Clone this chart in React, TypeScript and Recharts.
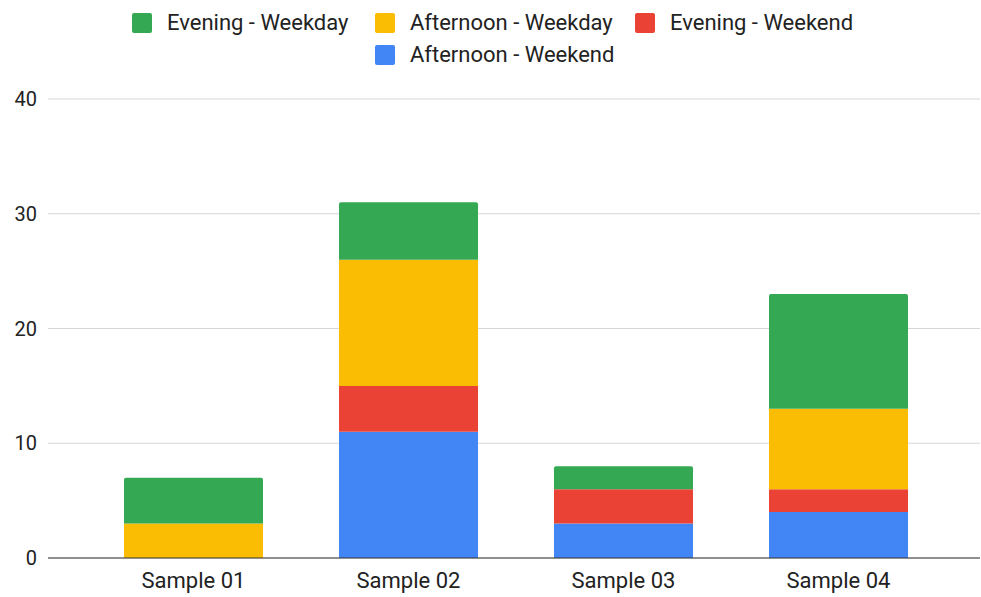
import React from 'react';
import { BarChart, Bar, XAxis, YAxis, CartesianGrid } from 'recharts';

const categories = ['Sample 01', 'Sample 02', 'Sample 03', 'Sample 04'];
const afternoonWeekend = [0, 11, 3, 4];
const eveningWeekend = [0, 4, 3, 2];
const afternoonWeekday = [3, 11, 0, 7];
const eveningWeekday = [4, 5, 2, 10];
const yTicks = [0, 10, 20, 30, 40];

const seriesNames = ['Afternoon - Weekend', 'Evening - Weekend', 'Afternoon - Weekday', 'Evening - Weekday'];
const seriesColors = ['#4285f4', '#ea4335', '#fbbc04', '#34a853'];
const seriesKeys = ['aWe', 'eWe', 'aWd', 'eWd'];

const data = categories.map((c, i) => ({
  name: c,
  aWe: afternoonWeekend[i],
  eWe: eveningWeekend[i],
  aWd: afternoonWeekday[i],
  eWd: eveningWeekday[i],
}));

// legend order (Google style: reversed stack), with layout slots
const legendOrder = [3, 2, 1, 0];
const legendSlots = [
  { left: 132, top: 13 },
  { left: 375, top: 13 },
  { left: 635, top: 13 },
  { left: 375, top: 45 },
];

const FONT = 'Roboto, "Noto Sans", Arial, sans-serif';

export default function App() {
  return (
    <div style={{ position: 'absolute', left: 0, top: 0, width: 981, height: 597, background: '#fff', fontFamily: FONT }}>
      {legendOrder.map((si, k) => (
        <div
          key={si}
          style={{
            position: 'absolute',
            left: legendSlots[k].left,
            top: legendSlots[k].top,
            height: 20,
            display: 'flex',
            alignItems: 'flex-start',
            whiteSpace: 'nowrap',
          }}
        >
          <div style={{ width: 20, height: 20, borderRadius: 2, background: seriesColors[si] }} />
          <span style={{ marginLeft: 15, fontSize: 22, color: '#222', lineHeight: '20px', position: 'relative', top: 0 }}>
            {seriesNames[si]}
          </span>
        </div>
      ))}
      <BarChart
        width={981}
        height={597}
        data={data}
        margin={{ top: 99, right: 1, bottom: 0, left: 0 }}
        style={{ position: 'absolute', left: 0, top: 0 }}
      >
        <CartesianGrid vertical={false} stroke="#d6d6d6" />
        <XAxis
          dataKey="name"
          height={39}
          padding={{ left: 38, right: 34 }}
          tickLine={false}
          axisLine={{ stroke: '#333', strokeWidth: 1 }}
          tick={{ fill: '#222', fontSize: 22, fontFamily: FONT }}
          tickMargin={8}
        />
        <YAxis
          width={48}
          domain={[0, 40]}
          ticks={yTicks}
          axisLine={false}
          tickLine={false}
          tickSize={0}
          tickMargin={11}
          tick={{ fill: '#222', fontSize: 20, fontFamily: FONT }}
        />
        {seriesKeys.map((k, i) => (
          <Bar
            key={k}
            dataKey={k}
            name={seriesNames[i]}
            stackId="a"
            fill={seriesColors[i]}
            barSize={139}
            radius={i === 3 ? [2, 2, 0, 0] : 0}
            isAnimationActive={false}
          />
        ))}
      </BarChart>
    </div>
  );
}
